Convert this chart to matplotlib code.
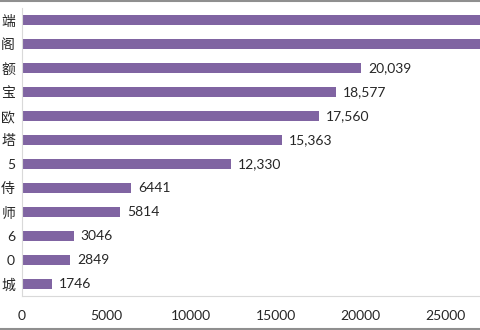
import matplotlib
matplotlib.use('Agg')
import matplotlib.pyplot as plt
from matplotlib.lines import Line2D

plt.rcParams['font.family'] = ['Lato', 'Noto Sans CJK SC', 'DejaVu Sans']

# categories, top to bottom
names = ['端', '阁', '额', '宝', '欧', '塔', '5', '侍', '师', '6', '0', '城']
values = [32850, 30120, 20039, 18577, 17560, 15363, 12330, 6441, 5814, 3046, 2849, 1746]
xticks = [0, 5000, 10000, 15000, 20000, 25000]

bar_color = '#8064a2'
axis_color = '#d9d9d9'

fig = plt.figure(figsize=(4.8, 3.3), dpi=100)
ax = fig.add_axes([22 / 480, 34 / 330, 1 - 22 / 480, 288 / 330])

ypos = list(range(len(names)))
ax.barh(ypos, values, height=0.44, color=bar_color)

for y, v in zip(ypos, values):
    txt = f'{v:,}' if v >= 10000 else str(v)
    ax.annotate(txt, (v, y), xytext=(5, 0), textcoords='offset points',
                ha='left', va='center', fontsize=10, color='#262626',
                annotation_clip=True)

ax.set_xlim(0, 27070)
ax.set_ylim(len(names) - 0.5, -0.5)
ax.set_yticks(ypos)
ax.set_yticklabels(names, fontsize=10, color='#262626')
ax.set_xticks(xticks)
ax.set_xticklabels([str(t) for t in xticks], fontsize=10, color='#262626')
ax.tick_params(axis='y', length=0, pad=5)
ax.tick_params(axis='x', length=0, pad=10)

for side in ['top', 'right']:
    ax.spines[side].set_visible(False)
ax.spines['left'].set_color(axis_color)
ax.spines['bottom'].set_color(axis_color)

# outer frame lines of the chart area
fig.add_artist(Line2D([0, 1], [0.998, 0.998], color='#8f8f8f', lw=1.5))
fig.add_artist(Line2D([0, 1], [0.004, 0.004], color='#8f8f8f', lw=1.5))

fig.savefig('out.png', dpi=100)
